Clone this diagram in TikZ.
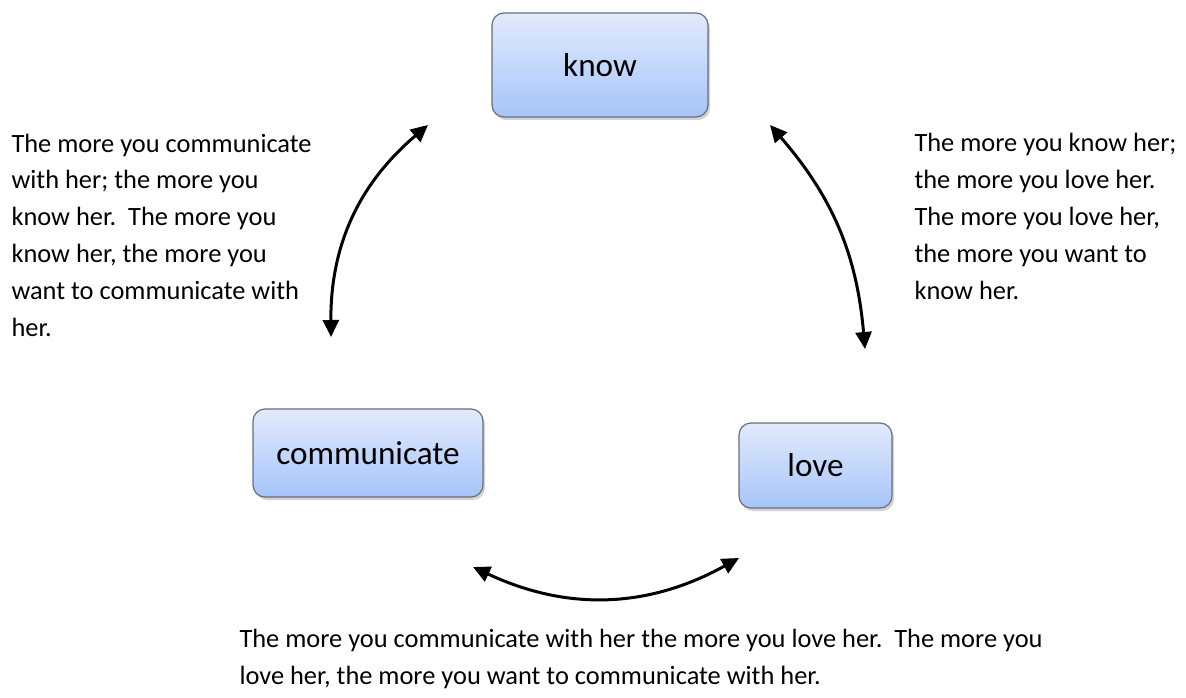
\documentclass[tikz,border=0pt]{standalone}
\usepackage{fontspec}
\setmainfont{Carlito}
\usetikzlibrary{arrows.meta,shadows}
\definecolor{boxtop}{RGB}{226,234,252}
\definecolor{boxbottom}{RGB}{166,197,250}
\definecolor{boxline}{RGB}{105,110,120}

\begin{document}
\begin{tikzpicture}[x=0.5pt,y=0.5pt,<->,>={Triangle[length=8.5pt,width=8pt]},line width=1.5pt,
    box node/.style={rectangle,rounded corners=6pt,draw=boxline,line width=0.6pt,top color=boxtop,bottom color=boxbottom,drop shadow={opacity=0.35,shadow xshift=1pt,shadow yshift=-1.5pt},font=\fontsize{16.6}{20}\selectfont,inner sep=0pt},
    note/.style={anchor=base west,align=left,inner sep=0pt,font=\fontsize{13.2}{18.4}\selectfont\frenchspacing}]
    \useasboundingbox (0,0) rectangle (1186,697);

    \node[box node,minimum width=108pt,minimum height=52pt] (know) at (600,632) {know};
    \node[box node,minimum width=115pt,minimum height=44pt] (comm) at (368,244) {communicate};
    \node[box node,minimum width=76.5pt,minimum height=42.5pt] (love) at (815.5,231.5) {love};

    \coordinate (ck1) at (331,360);
    \coordinate (ck2) at (428,572);
    \coordinate (kl1) at (770,572);
    \coordinate (kl2) at (865,348);
    \coordinate (cl1) at (473,130);
    \coordinate (cl2) at (739,139);

    \path
    (ck1) edge [bend left=25] (ck2)
    (kl1) edge [bend left=18] (kl2)
    (cl1) edge [bend right=27] (cl2);

    % base west sits on the last line
    \node[note] (commknow) at (10,361) {The more you communicate\\with her; the more you\\know her.~ The more you\\know her, the more you\\want to communicate with\\her.};
    \node[note] (knowlove) at (913,398) {The more you know her;\\the more you love her.\\The more you love her,\\the more you want to\\know her.};
    \node[note] (commlove) at (238,13) {The more you communicate with her the more you love her.~ The more you\\love her, the more you want to communicate with her.};
  \end{tikzpicture}
\end{document}
